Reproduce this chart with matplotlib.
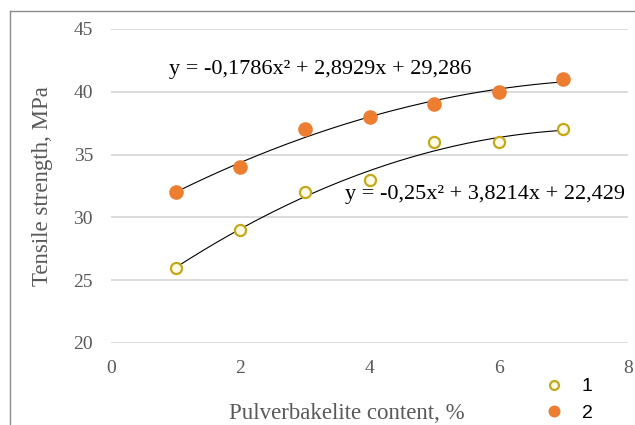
import numpy as np
import matplotlib
matplotlib.use("Agg")
import matplotlib.pyplot as plt
from matplotlib.lines import Line2D

# measured tensile strength vs. filler content
content = [1, 2, 3, 4, 5, 6, 7]
strength_1 = [26, 29, 32, 33, 36, 36, 37]
strength_2 = [32, 34, 37, 38, 39, 40, 41]

# quadratic trend coefficients (a, b, c) for y = a*x^2 + b*x + c
trend_1 = (-0.25, 3.8214, 22.429)
trend_2 = (-0.1786, 2.8929, 29.286)
eq_1 = "y = -0,25x\u00b2 + 3,8214x + 22,429"
eq_2 = "y = -0,1786x\u00b2 + 2,8929x + 29,286"

x_ticks = [0, 2, 4, 6, 8]
y_ticks = [20, 25, 30, 35, 40, 45]

serif = "Liberation Serif"
gray_txt = "#595959"

fig = plt.figure(figsize=(6.35, 4.25), dpi=100)
ax = fig.add_axes([0.1748, 0.193, 0.8142, 0.739])

for yt in y_ticks:
    ax.axhline(yt, color="#d9d9d9", linewidth=1.3, zorder=0)

xs = np.linspace(1, 7, 200)
for a, b, c in (trend_1, trend_2):
    ax.plot(xs, a * xs**2 + b * xs + c, color="black", linewidth=0.8, zorder=2)

ax.plot(content, strength_1, linestyle="none", marker="o", markersize=8,
        markerfacecolor="#fffbe6", markeredgecolor="#c4a81a", markeredgewidth=1.6,
        zorder=3, label="1")
ax.plot(content, strength_2, linestyle="none", marker="o", markersize=9.5,
        markerfacecolor="#ed7d31", markeredgecolor="#ed7d31", zorder=3, label="2")

ax.text(0.9, 41.8, eq_2, fontsize=16, family=serif, color="black", va="center")
ax.text(3.62, 31.8, eq_1, fontsize=16, family=serif, color="black", va="center")

ax.set_xlim(0, 8)
ax.set_ylim(20, 45)
ax.set_xticks(x_ticks)
ax.set_yticks(y_ticks)
for lbl in ax.get_xticklabels() + ax.get_yticklabels():
    lbl.set_family(serif)
    lbl.set_fontsize(14)
    lbl.set_color(gray_txt)
ax.tick_params(length=0, pad=12)
ax.tick_params(axis="y", pad=13)
for s in ax.spines.values():
    s.set_visible(False)

ax.set_xlabel("Pulverbakelite content, %", family=serif, fontsize=16.5,
              color=gray_txt)
ax.set_ylabel("Tensile strength, MPa", family=serif, fontsize=16.5,
              color=gray_txt)
ax.xaxis.set_label_coords(0.457, -0.19)
ax.yaxis.set_label_coords(-0.112, 0.5)

leg = ax.legend(loc="upper left", bbox_to_anchor=(0.82, -0.08), frameon=False,
                prop={"family": "Liberation Sans", "size": 14},
                handletextpad=0.9, labelspacing=0.45, handlelength=1.0,
                borderpad=0.0, markerscale=0.8)

# outer chart frame
fig.add_artist(Line2D([10 / 635, 1.0], [1 - 11 / 425] * 2, color="#8c8c8c", linewidth=1.0))
fig.add_artist(Line2D([10 / 635] * 2, [0.0, 1 - 11 / 425], color="#8c8c8c", linewidth=1.0))

fig.savefig("out.png", dpi=100)
